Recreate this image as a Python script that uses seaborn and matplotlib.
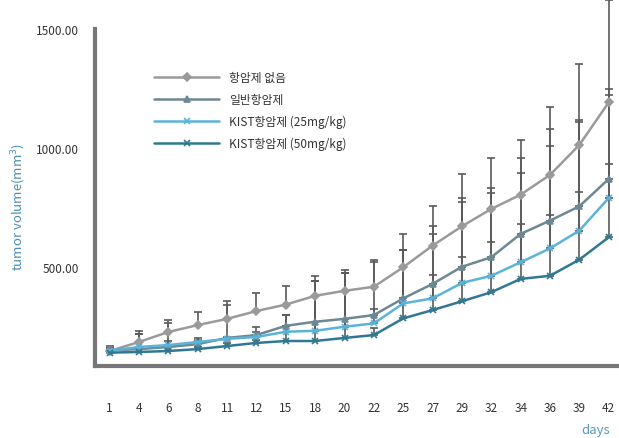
import numpy as np
import pandas as pd
import matplotlib
matplotlib.use("Agg")
import matplotlib.pyplot as plt
import seaborn as sns

# --- DATA ---
DAYS = ["1", "4", "6", "8", "11", "12", "15", "18", "20", "22",
        "25", "27", "29", "32", "34", "36", "39", "42"]

GROUPS = ["항암제 없음", "일반항암제", "KIST항암제 (25mg/kg)", "KIST항암제 (50mg/kg)"]

no_drug = [147, 185, 227, 256, 282, 315, 342, 379, 400, 417,
           499, 590, 671, 744, 804, 887, 1013, 1192]
normal_drug = [150, 155, 164, 176, 202, 214, 253, 270, 282, 298,
               368, 429, 501, 541, 639, 695, 755, 870]
kist_25 = [148, 164, 172, 185, 198, 206, 228, 232, 249, 263,
           347, 368, 433, 463, 520, 578, 653, 790]
kist_50 = [140, 143, 147, 155, 168, 181, 189, 189, 202, 214,
           284, 319, 356, 394, 450, 463, 531, 625]

# upper end of each error bar
no_drug_top = [168, 231, 277, 311, 357, 391, 420, 462, 487, 529,
               639, 756, 891, 958, 1034, 1172, 1353, 1620]
normal_drug_top = [160, 218, 265, 200, 340, 248, 298, 441, 475, 521,
                   571, 672, 790, 832, 957, 1080, 1118, 1248]
kist_25_top = [158, 218, 190, 192, 206, 227, 298, 441, 475, 324,
               571, 639, 773, 811, 895, 1008, 1110, 1223]
kist_50_top = [158, 165, 165, 165, 180, 195, 250, 441, 475, 244,
               571, 466, 542, 605, 680, 718, 815, 933]

values = [no_drug, normal_drug, kist_25, kist_50]
tops = [no_drug_top, normal_drug_top, kist_25_top, kist_50_top]

COLORS = ["#9a9a9c", "#6d8895", "#5ab4da", "#2f7893"]
MARKERS = ["D", "^", "x", "x"]

sns.set_style("white")
plt.rcParams["font.family"] = ["Noto Sans CJK KR", "DejaVu Sans"]

fig = plt.figure(figsize=(6.19, 4.39), dpi=100)
ax = fig.add_axes([0.153, 0.164, 0.847, 0.836])

# error bars (upper only)
x = np.arange(len(DAYS))
for vals, top in zip(values, tops):
    v = np.array(vals)
    t = np.array(top)
    ax.errorbar(x, v, yerr=[np.zeros_like(v), t - v], fmt="none",
                ecolor="#5a5a5a", elinewidth=1.2, capsize=3, capthick=1.2,
                zorder=1, clip_on=False)

for g, vals, c, m in zip(GROUPS, values, COLORS, MARKERS):
    sns.lineplot(x=x, y=vals, color=c, marker=m, label=g,
                 linewidth=1.8, markersize=4.5, markeredgewidth=1.2,
                 markeredgecolor=c, ax=ax, zorder=2)

ax.set_xlim(-0.51, 17.35)
ax.set_ylim(84, 1626)

# axes styling
for s in ["top", "right"]:
    ax.spines[s].set_visible(False)
for s in ["left", "bottom"]:
    ax.spines[s].set_color("#77777a")
    ax.spines[s].set_linewidth(3)
ax.spines["left"].set_bounds(84, 1500)

ax.set_yticks([500, 1000, 1500])
ax.set_yticklabels(["500.00", "1000.00", "1500.00"])
ax.tick_params(axis="y", direction="in", length=5, width=3, color="#77777a",
               pad=11, labelsize=8.5, labelcolor="#333333")

ax.set_xticks(x)
ax.set_xticklabels(DAYS)
ax.set_xticks(np.arange(0.5, 17, 1), minor=True)
ax.tick_params(axis="x", which="major", length=0, pad=25, labelsize=8.5,
               labelcolor="#333333")
ax.tick_params(axis="x", which="minor", direction="in", length=5, width=3,
               color="#77777a")

ax.set_xlabel("")
ax.set_ylabel("tumor volume(mm$^3$)", color="#4a8fae", fontsize=9.5)
ax.yaxis.set_label_coords(-0.128, 0.436)
fig.text(0.985, 0.005, "days", color="#5a9ab8", fontsize=9.5, ha="right", va="bottom")

leg = ax.legend(loc="upper left", bbox_to_anchor=(0.105, 0.816), frameon=False,
                fontsize=8.5, handlelength=5.5, labelspacing=0.75, borderaxespad=0)
for t in leg.get_texts():
    t.set_color("#333333")

fig.savefig("out.png", dpi=100)
